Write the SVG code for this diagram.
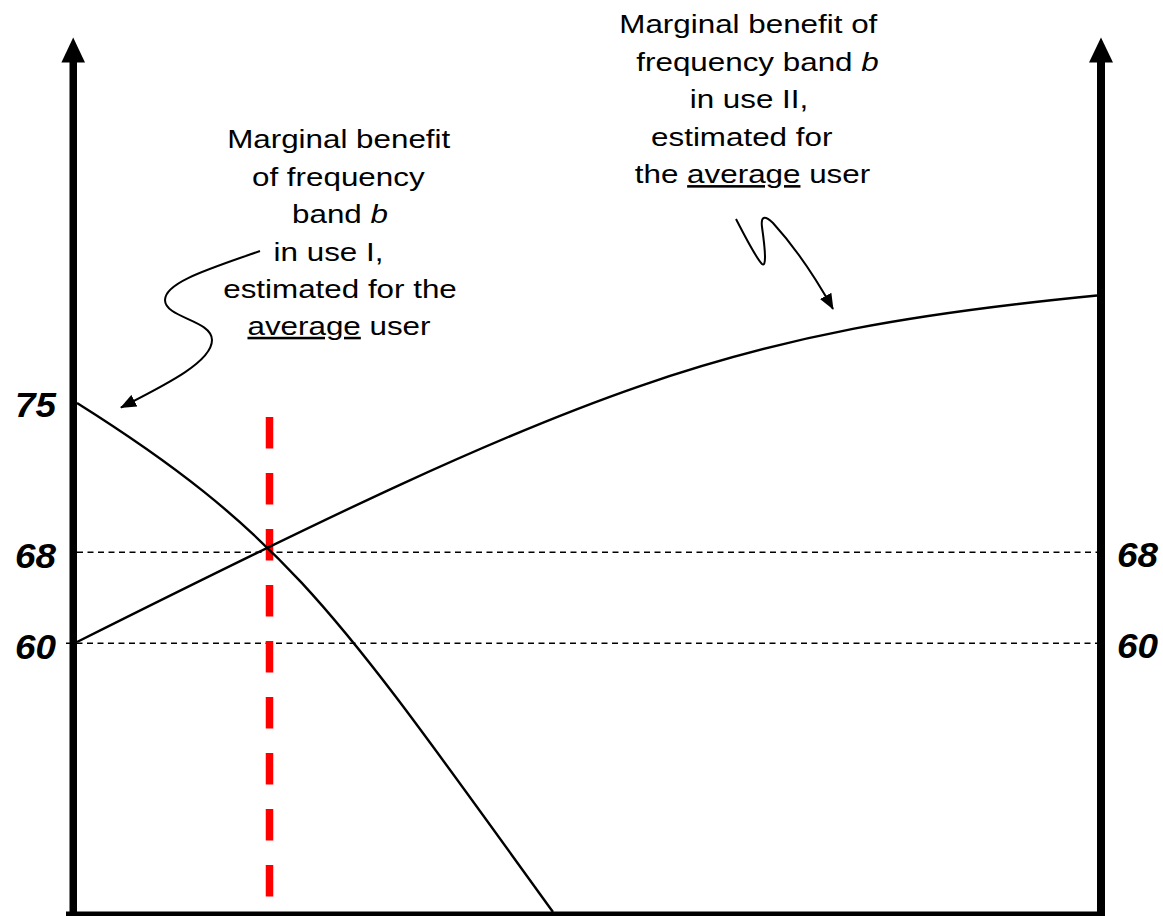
<svg xmlns="http://www.w3.org/2000/svg" width="1163" height="916" viewBox="0 0 1163 916">
<style>
.lbl{font-family:"Liberation Sans",Arial,sans-serif;font-size:25.5px;fill:#000;text-anchor:middle}
.num{font-family:"Liberation Sans",Arial,sans-serif;font-size:35px;font-weight:bold;font-style:italic;fill:#000}
.curve{fill:none;stroke:#000;stroke-width:2.4}
.call{fill:none;stroke:#000;stroke-width:2}
.grid{fill:none;stroke:#000;stroke-width:1.6;stroke-dasharray:6 4.5}
.ul{text-decoration:underline}
</style>
<defs>
<marker id="ah" viewBox="0 0 16 13" refX="15" refY="6.5" markerWidth="16" markerHeight="13" markerUnits="userSpaceOnUse" orient="auto">
<path d="M0,0 L16,6.5 L0,13 z" fill="#000"/>
</marker>
</defs>
<rect width="1163" height="916" fill="#fff"/>

<g id="gridlines">
<line class="grid" x1="77" y1="552.3" x2="1097" y2="552.3"/>
<line class="grid" x1="66" y1="643.3" x2="1097" y2="643.3"/>
</g>

<g id="axes">
<rect x="69.5" y="60" width="7.5" height="856" fill="#000"/>
<path d="M73.2,37.5 L85,62.5 L61.4,62.5 z" fill="#000"/>
<rect x="1097" y="60" width="8" height="856" fill="#000"/>
<path d="M1101,37.5 L1113,62.5 L1089,62.5 z" fill="#000"/>
<rect x="66" y="911.5" width="1039" height="5" fill="#000"/>
</g>

<g id="equilibrium">
<line x1="269.5" y1="417" x2="269.5" y2="897" stroke="#ff0000" stroke-width="7.5" stroke-dasharray="31.5 24.5"/>
</g>

<g id="curve-use-I">
<path class="curve" d="M77,403 C290,537 340,618 553,912"/>
</g>
<g id="curve-use-II">
<path class="curve" d="M77,642 C590,385 725,332 1097,295.5"/>
</g>

<g id="connectors">
<path class="call" marker-end="url(#ah)" d="M260,251 C212,268 165,282 165,300 C165,318 212,320 212,340 C212,362 165,385 121,407.5"/>
<path class="call" marker-end="url(#ah)" d="M736,219 Q756,258 762,264 Q768,269 762,227 Q760,211 773,223 Q804,257 833,309"/>
</g>

<g id="label-use-I">
<text class="lbl" transform="translate(338.7,148.3) scale(1.23,1)">Marginal benefit</text>
<text class="lbl" transform="translate(338.3,185.7) scale(1.23,1)">of frequency</text>
<text class="lbl" transform="translate(340,223.3) scale(1.23,1)">band <tspan font-style="italic">b</tspan></text>
<text class="lbl" transform="translate(328.5,260.7) scale(1.23,1)">in use I,</text>
<text class="lbl" transform="translate(340,297.7) scale(1.23,1)">estimated for the</text>
<text class="lbl" transform="translate(339,335) scale(1.23,1)"><tspan class="ul">average</tspan> user</text>
</g>

<g id="label-use-II">
<text class="lbl" transform="translate(748.3,33.3) scale(1.23,1)">Marginal benefit of</text>
<text class="lbl" transform="translate(757.5,70.7) scale(1.23,1)">frequency band <tspan font-style="italic">b</tspan></text>
<text class="lbl" transform="translate(749,108.3) scale(1.23,1)">in use II,</text>
<text class="lbl" transform="translate(741.7,145.7) scale(1.23,1)">estimated for</text>
<text class="lbl" transform="translate(752.5,183.3) scale(1.23,1)">the <tspan class="ul">average</tspan> user</text>
</g>

<g id="axis-labels">
<text class="num" x="56" y="417" text-anchor="end" textLength="41" lengthAdjust="spacingAndGlyphs">75</text>
<text class="num" x="56" y="568" text-anchor="end" textLength="41" lengthAdjust="spacingAndGlyphs">68</text>
<text class="num" x="56" y="659" text-anchor="end" textLength="41" lengthAdjust="spacingAndGlyphs">60</text>
<text class="num" x="1117" y="567" textLength="41" lengthAdjust="spacingAndGlyphs">68</text>
<text class="num" x="1117" y="658" textLength="41" lengthAdjust="spacingAndGlyphs">60</text>
</g>
</svg>
